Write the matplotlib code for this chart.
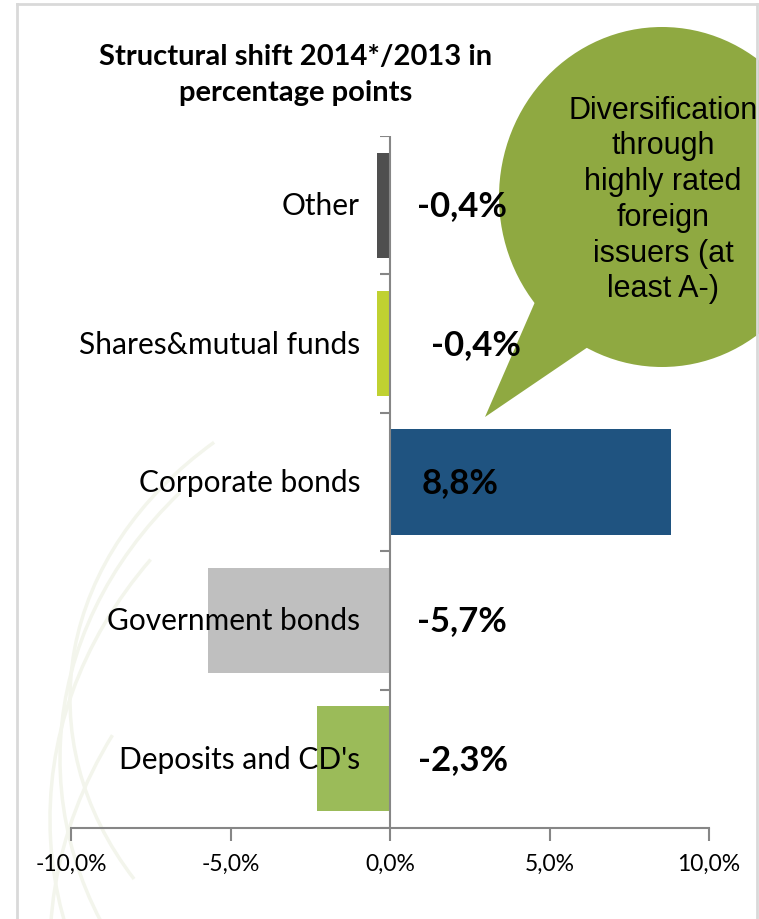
import matplotlib
matplotlib.use("Agg")
import matplotlib.pyplot as plt
from matplotlib.patches import Ellipse, Polygon, Arc
from matplotlib.transforms import Affine2D
from matplotlib.ticker import FuncFormatter

# Data (bottom to top).
categories = ["Deposits and CD's", "Government bonds", "Corporate bonds",
              "Shares&mutual funds", "Other"]
shift_pp = [-2.3, -5.7, 8.8, -0.4, -0.4]
value_labels = ["-2,3%", "-5,7%", "8,8%", "-0,4%", "-0,4%"]
bar_colors = ["#9bbb59", "#bfbfbf", "#1f5380", "#c0d131", "#4f4f4f"]
x_ticks = [-10, -5, 0, 5, 10]
title = "Structural shift 2014*/2013 in\npercentage points"
bubble_text = "Diversification\nthrough\nhighly rated\nforeign\nissuers (at\nleast A-)"

W, H = 759, 920
AXIS_GRAY = "#868686"

fig = plt.figure(figsize=(W / 100, H / 100), dpi=100)
fig.patch.set_facecolor("white")
# transform for image pixel coordinates (origin top left)
px = Affine2D().scale(1.0 / W, -1.0 / H).translate(0, 1) + fig.transFigure

# Background with very faint swirl lines.
bg = fig.add_axes([0, 0, 1, 1], zorder=0)
bg.set_xlim(0, W)
bg.set_ylim(H, 0)
bg.axis("off")
for cx, cy, w, h, t1, t2 in [(560, 760, 1000, 820, 150, 215),
                             (600, 820, 1100, 900, 145, 210),
                             (520, 700, 900, 700, 155, 220),
                             (700, 950, 1300, 1000, 140, 200)]:
    bg.add_patch(Arc((cx, cy), w, h, theta1=t1, theta2=t2,
                     color="#f3f5ec", lw=2.5))

ax = fig.add_axes([71 / W, 91 / H, 638 / W, 692 / H], zorder=1)
ax.patch.set_alpha(0)

y_pos = list(range(len(categories)))
ax.barh(y_pos, shift_pp, height=0.76, color=bar_colors, zorder=2)
ax.set_xlim(-10, 10)
ax.set_ylim(-0.5, len(categories) - 0.5)

for side in ["top", "right", "left"]:
    ax.spines[side].set_visible(False)
ax.spines["bottom"].set_color(AXIS_GRAY)
ax.spines["bottom"].set_linewidth(1.5)

ax.set_xticks(x_ticks)
ax.xaxis.set_major_formatter(FuncFormatter(lambda v, p: ("%.1f%%" % v).replace(".", ",")))
ax.tick_params(axis="x", direction="out", length=9, width=1.5, color=AXIS_GRAY,
               labelsize=16.5, pad=9)
for lbl in ax.get_xticklabels():
    lbl.set_family("Lato")
ax.set_yticks([])

# vertical axis at zero with category separators
ax.axvline(0, color=AXIS_GRAY, lw=1.5, zorder=3)
ax.hlines([i - 0.5 for i in range(len(categories) + 1)], -0.31, 0,
          color=AXIS_GRAY, lw=1.5, zorder=3)

for i, cat in enumerate(categories):
    ax.text(-0.94, i, cat, ha="right", va="center", fontsize=21.5,
            family="Lato", zorder=5)

label_x = [2.3, 2.25, 2.2, 2.7, 2.25]
for i, lab in enumerate(value_labels):
    ax.text(label_x[i], i, lab, ha="center", va="center", fontsize=25,
            fontweight="bold", family="Lato", zorder=6)

# title
ax.text(296, 75, title, transform=px, ha="center", va="center", fontsize=21,
        fontweight="bold", family="Lato", linespacing=1.45)

# speech bubble
bubble_col = "#8fa941"
ax.add_patch(Ellipse((662, 198), 326, 340, transform=px, color=bubble_col,
                     lw=0, clip_on=False, zorder=4))
ax.add_patch(Polygon([(535, 303), (485, 418), (588, 348), (620, 300)],
                     closed=True, transform=px, color=bubble_col, lw=0,
                     clip_on=False, zorder=4))
ax.text(663, 200, bubble_text, transform=px, ha="center", va="center",
        fontsize=22, family="Liberation Sans", linespacing=1.25, zorder=7)

# slide frame
frame = dict(transform=px, color="#d9d9d9", lw=2, clip_on=False, zorder=8)
ax.plot([17, 17], [5, H], **frame)
ax.plot([17, 757], [5, 5], **frame)
ax.plot([757, 757], [5, H], **frame)

fig.savefig("out.png", dpi=100)
